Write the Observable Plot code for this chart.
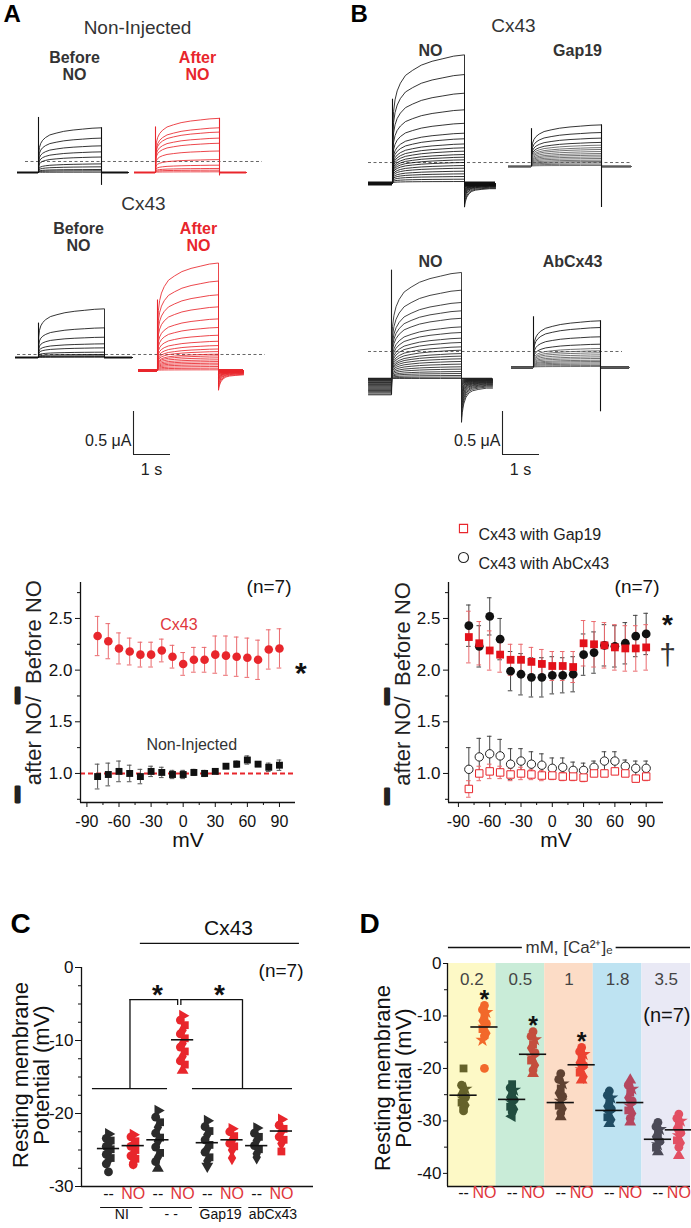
<!DOCTYPE html>
<html><head><meta charset="utf-8">
<script src="https://cdn.jsdelivr.net/npm/d3@7"></script>
<script src="https://cdn.jsdelivr.net/npm/@observablehq/plot@0.6"></script>
<style>
body{margin:0;background:#fff;}
#root{position:relative;width:691px;height:1228px;overflow:hidden;background:#fff;font-family:'Liberation Sans',Arial,sans-serif;}
#root svg{overflow:visible;}
</style></head><body><div id="root"></div>
<script>
// ======================= DATA =======================
// --- A/B: two-electrode current traces (μA, relative to each recording's holding current)
// shared activation time-course (fraction of pulse duration -> fraction of final current)
const riseP    = [0, 0.004, 0.015, 0.035, 0.065, 0.11, 0.18, 0.28, 0.40, 0.55, 0.70, 0.85, 1];
const riseFrac = [0, 0.42, 0.56, 0.65, 0.72, 0.78, 0.84, 0.88, 0.92, 0.95, 0.97, 0.99, 1];
// shared tail-current decay (s after pulse end -> fraction of tail peak)
const tailT    = [0, 0.02, 0.06, 0.12, 0.2, 0.3, 0.45, 0.68];
const tailFrac = [1, 0.78, 0.58, 0.43, 0.33, 0.28, 0.25, 0.22];

const niBeforeAmp = [0.52, 0.40, 0.31, 0.24, 0.18, 0.10, 0.066, 0.035, 0.02, 0.004];
const niBeforeSpike = [0.64, -0.15];
const niAfterAmp = [0.63, 0.52, 0.47, 0.40, 0.34, 0.25, 0.15, 0.085, 0.047, 0.027, 0.008];
const niAfterSpike = [0.53, -0.04];
const cxBeforeAmp = [0.566, 0.345, 0.236, 0.159, 0.112, 0.062, 0.035, 0.019, 0.01, 0.004];
const cxBeforeSpike = [0.40, 0];
const cxAfterAmp = [1.25, 1.04, 0.88, 0.74, 0.60, 0.50, 0.41, 0.34, 0.29, 0.25, 0.22, 0.19, 0.17, 0.147, 0.124, 0.104, 0.085, 0.066, 0.046, 0.027, 0.008];
const cxAfterTail = [-0.23, -0.2, -0.17, -0.15, -0.13, -0.11, -0.1, -0.09, -0.08, -0.07, -0.06, -0.05, -0.045, -0.04, -0.035, -0.03, -0.025, -0.02, -0.015, -0.01, -0.005];
const cxAfterSpike = [0.82, 0];
const noB1Amp = [1.496, 1.267, 1.05, 0.857, 0.70, 0.585, 0.52, 0.46, 0.415, 0.376, 0.337, 0.306, 0.275, 0.244, 0.209, 0.178, 0.143, 0.112, 0.081, 0.05, 0.023];
const noB1Tail = [-0.275, -0.24, -0.2, -0.17, -0.15, -0.13, -0.115, -0.1, -0.09, -0.08, -0.07, -0.06, -0.05, -0.045, -0.04, -0.035, -0.03, -0.025, -0.02, -0.015, -0.01];
const noB1Spike = [0.98, 0];
const gap19Amp = [0.484, 0.395, 0.33, 0.28, 0.248, 0.22, 0.198, 0.174, 0.151, 0.132, 0.112, 0.093, 0.074, 0.058, 0.043, 0.027, 0.012];
const gap19Spike = [0.44, -0.477];
const noB2Amp = [1.233, 1.027, 0.884, 0.787, 0.70, 0.60, 0.535, 0.469, 0.419, 0.368, 0.329, 0.29, 0.26, 0.229, 0.198, 0.167, 0.136, 0.109, 0.081, 0.058, 0.035, 0.016, 0];
const noB2Pre = [-0.19, -0.18, -0.165, -0.15, -0.14, -0.13, -0.12, -0.11, -0.1, -0.09, -0.08, -0.07, -0.06, -0.05, -0.045, -0.04, -0.03, -0.025, -0.02, -0.012, -0.008, -0.004, 0];
const noB2Tail = [-0.51, -0.45, -0.40, -0.36, -0.32, -0.29, -0.26, -0.23, -0.21, -0.19, -0.17, -0.15, -0.13, -0.12, -0.1, -0.09, -0.08, -0.07, -0.06, -0.05, -0.04, -0.03, -0.02];
const noB2Spike = [1.26, 0];
const abAmp = [0.543, 0.465, 0.357, 0.271, 0.221, 0.194, 0.171, 0.147, 0.124, 0.105, 0.085, 0.07, 0.054, 0.039, 0.023, 0.012];
const abSpike = [0.59, -0.515];
const dashLevels = [0.128, 0.035, 0.244, 0.314];   // reference current level (dashed) per row
const scaleBarUA = 0.5, scaleBarS = 1;

// --- middle: I(after NO)/I(before NO) vs membrane potential
const mV = [-80, -70, -60, -50, -40, -30, -20, -10, 0, 10, 20, 30, 40, 50, 60, 70, 80, 90];
const cx43Ratio = [2.33, 2.28, 2.21, 2.18, 2.15, 2.15, 2.19, 2.13, 2.06, 2.10, 2.10, 2.15, 2.14, 2.13, 2.12, 2.10, 2.20, 2.21];
const cx43Sem   = [0.19, 0.17, 0.15, 0.13, 0.12, 0.12, 0.11, 0.11, 0.11, 0.12, 0.12, 0.18, 0.19, 0.19, 0.19, 0.19, 0.19, 0.19];
const niRatio   = [0.97, 0.99, 1.02, 1.00, 0.97, 1.02, 1.01, 0.99, 0.99, 1.01, 1.00, 1.02, 1.07, 1.09, 1.13, 1.09, 1.06, 1.08];
const niSem     = [0.12, 0.11, 0.10, 0.08, 0.07, 0.05, 0.05, 0.04, 0.04, 0.03, 0.03, 0.01, 0.01, 0.03, 0.04, 0.02, 0.04, 0.05];
const noGapRatio = [2.32, 2.26, 2.19, 2.15, 2.10, 2.10, 2.08, 2.06, 2.04, 2.04, 2.03, 2.26, 2.25, 2.24, 2.22, 2.21, 2.21, 2.22];
const noGapSem   = [0.25, 0.21, 0.19, 0.17, 0.15, 0.15, 0.14, 0.14, 0.14, 0.14, 0.15, 0.22, 0.22, 0.22, 0.22, 0.22, 0.22, 0.22];
const noAbRatio  = [2.43, 2.23, 2.52, 2.30, 1.99, 1.96, 1.93, 1.93, 1.95, 1.95, 1.96, 2.15, 2.17, 2.24, 2.23, 2.26, 2.33, 2.35];
const noAbSem    = [0.20, 0.20, 0.18, 0.20, 0.19, 0.20, 0.19, 0.19, 0.18, 0.17, 0.17, 0.20, 0.20, 0.20, 0.20, 0.20, 0.20, 0.20];
const gap19Ratio = [0.85, 1.00, 1.02, 1.01, 0.99, 1.00, 0.99, 0.98, 0.98, 0.97, 0.97, 0.96, 1.00, 1.00, 1.02, 1.00, 0.95, 0.97];
const gap19Sem   = [0.08, 0.07, 0.07, 0.06, 0.06, 0.06, 0.05, 0.05, 0.04, 0.04, 0.04, 0.04, 0.03, 0.03, 0.03, 0.03, 0.03, 0.04];
const abRatio    = [1.04, 1.16, 1.19, 1.17, 1.09, 1.12, 1.09, 1.08, 1.05, 1.06, 1.03, 1.03, 1.06, 1.12, 1.12, 1.07, 1.05, 1.05];
const abSem      = [0.21, 0.18, 0.17, 0.16, 0.15, 0.12, 0.12, 0.11, 0.10, 0.09, 0.08, 0.07, 0.06, 0.09, 0.09, 0.06, 0.07, 0.07];

// --- C: resting membrane potential (mV)
const cTreat = ["--", "NO", "--", "NO", "--", "NO", "--", "NO"];
const cGroupNames = ["NI", "- -", "Gap19", "abCx43"];
const cNIctl  = [-22.8, -23.4, -23.7, -24.2, -24.5, -24.9, -25.3, -25.6, -26.1, -26.4, -26.9, -28.0];
const cNIno   = [-22.9, -23.2, -23.8, -24.3, -24.5, -25.0, -25.5, -25.8, -26.2, -26.7, -27.0];
const cCxctl  = [-19.6, -20.5, -21.2, -21.9, -22.7, -23.3, -23.8, -24.6, -25.4, -26.0, -26.6, -27.5];
const cCxno   = [-6.6, -7.2, -7.9, -8.6, -9.1, -9.7, -10.4, -10.9, -11.5, -12.2, -12.8, -13.3, -14.1];
const cGapctl = [-21.0, -21.8, -22.4, -22.9, -23.6, -24.3, -24.8, -25.3, -26.0, -26.5, -27.2];
const cGapno  = [-22.1, -22.5, -23.1, -23.7, -24.1, -24.5, -25.0, -26.1];
const cAbctl  = [-22.0, -22.7, -23.2, -23.7, -24.4, -24.9, -25.5, -26.0];
const cAbno   = [-20.8, -21.6, -22.1, -22.5, -23.2, -23.6, -24.1, -25.2];
const cMeans  = [-24.8, -24.4, -23.6, -9.9, -24.0, -23.6, -24.4, -22.4];
const cBracketLevels = [-16.6, -4.4];

// --- D: resting membrane potential vs [Ca2+]e (mM)
const caConc = ["0.2", "0.5", "1", "1.8", "3.5"];
const dCtl02 = [-20.0, -23.2, -23.9, -24.3, -24.9, -25.5, -25.8, -26.5, -27.0, -27.5, -28.1];
const dNo02  = [-8.0, -8.8, -9.3, -10.1, -10.9, -11.4, -12.1, -12.5, -13.3, -13.8, -14.6, -20.0];
const dCtl05 = [-23.0, -23.7, -24.1, -24.8, -25.5, -26.0, -26.5, -27.3, -27.8, -28.3, -29.1];
const dNo05  = [-13.0, -13.9, -14.5, -15.4, -16.1, -17.0, -17.9, -18.5, -19.4, -20.3, -21.0];
const dCtl1  = [-21.0, -22.1, -22.9, -23.8, -24.7, -25.3, -26.2, -27.1, -27.7, -28.5, -29.2];
const dNo1   = [-16.0, -16.8, -17.3, -18.1, -18.9, -19.4, -20.2, -20.8, -21.6, -22.2];
const dCtl18 = [-24.3, -25.1, -25.6, -26.4, -27.2, -27.7, -28.5, -29.3, -29.8, -30.5];
const dNo18  = [-22.2, -23.2, -23.9, -24.6, -25.6, -26.2, -27.1, -28.0, -28.6, -29.5, -30.2];
const dCtl35 = [-30.3, -31.1, -31.6, -32.5, -33.0, -33.9, -34.5, -35.1, -35.9];
const dNo35  = [-28.7, -29.5, -30.0, -30.9, -31.4, -32.3, -32.8, -33.7, -34.2, -35.0, -36.6];
const dCtlMeans = [-25.1, -25.9, -26.5, -28.0, -33.5];
const dNoMeans  = [-12.1, -17.3, -19.3, -26.5, -31.7];

// ======================= RENDER =======================
const FONT = "'Liberation Sans', Arial, Helvetica, sans-serif";
const RED = "#e8262c";
const root = document.getElementById("root");
function place(node, left, top) {
  const d = document.createElement("div");
  d.style.position = "absolute"; d.style.left = left + "px"; d.style.top = top + "px";
  d.appendChild(node); root.appendChild(d);
}

// ---------- A & B traces (one canvas, 37 px per s, 86 px per μA) ----------
const PXS = 37, PXA = 86;
const tx = px => px / PXS;
const ty = px => -px / PXA;
const traceLayout = [
  {amps: niBeforeAmp, spike: niBeforeSpike, color: "#111", x: [17, 38, 101, 128], hold: 172, baseW: 2},
  {amps: niAfterAmp, spike: niAfterSpike, color: RED, x: [134, 155, 219, 246], hold: 172, baseW: 2},
  {amps: cxBeforeAmp, spike: cxBeforeSpike, color: "#111", x: [15, 38, 104, 132], hold: 357, baseW: 2},
  {amps: cxAfterAmp, spike: cxAfterSpike, tail: cxAfterTail, color: RED, x: [138, 157, 218, 243], hold: 370, baseW: 3},
  {amps: noB1Amp, spike: noB1Spike, tail: noB1Tail, color: "#111", x: [368, 392, 464, 495], hold: 183, baseW: 4},
  {amps: gap19Amp, spike: gap19Spike, color: "#111", fade: true, x: [508, 531, 601, 631], hold: 166, baseW: 2},
  {amps: noB2Amp, spike: noB2Spike, tail: noB2Tail, pre: noB2Pre, color: "#222", x: [368, 391, 461, 492], hold: 378, baseW: 1.5},
  {amps: abAmp, spike: abSpike, color: "#111", fade: true, x: [511, 533, 600, 629], hold: 367, baseW: 2.5}
];
const dashLayout = [
  {hold: 172, x: [25, 262]}, {hold: 357, x: [17, 265]}, {hold: 183, x: [368, 632]}, {hold: 378, x: [368, 622]}
];
const traceRows = [], baseRows = [], spikeRows = [];
traceLayout.forEach((g, gi) => {
  const [tPre, t0, tEnd, tPost] = g.x.map(tx);
  const dur = tEnd - t0, h = ty(g.hold);
  g.amps.forEach((a, k) => {
    const key = gi + "-" + k;
    const color = g.fade ? (k < 4 ? "#111" : "#5a5a5a") : g.color;
    const pre = g.pre ? g.pre[k] : 0;
    const push = (t, i) => traceRows.push({key, t, i, color});
    push(tPre, h + pre);
    riseP.forEach((p, j) => push(t0 + p * dur, h + pre + (a - pre) * riseFrac[j]));
    if (g.tail) {
      tailT.forEach((s, j) => { if (tEnd + s < tPost) push(tEnd + s, h + g.tail[k] * tailFrac[j]); });
      push(tPost, h + g.tail[k] * tailFrac[tailFrac.length - 1]);
    } else {
      push(tEnd, h); push(tPost, h);
    }
  });
  baseRows.push({x1: tPre, x2: t0, y: h, w: g.baseW, color: g.color}, {x1: tEnd, x2: tPost, y: h, w: g.baseW, color: g.color});
  spikeRows.push({x: t0, y1: h + (g.pre ? d3.min(g.pre) : 0), y2: h + g.spike[0], color: g.color});
  if (g.spike[1] < 0) spikeRows.push({x: tEnd, y1: h + g.spike[1], y2: h + g.amps[0], color: g.color});
});
const dashRows = dashLayout.map((d, i) => ({x1: tx(d.x[0]), x2: tx(d.x[1]), y: ty(d.hold) + dashLevels[i]}));
const barRows = [[133, 454], [502, 454]].map(([px, py]) => ({x: tx(px), y: ty(py)}));

function lab(px, py, text, o = {}) {
  return Plot.text([text], {x: tx(px), y: ty(py), text: d => d, fontFamily: FONT, lineHeight: 1.05, ...o});
}
const boldLbl = {fontWeight: "bold", fontSize: 16};
const tracePlot = Plot.plot({
  width: 691, height: 480, margin: 0,
  x: {domain: [0, tx(691)], range: [0, 691], axis: null},
  y: {domain: [ty(480), 0], range: [480, 0], axis: null},
  color: {type: "identity"},
  style: {fontFamily: FONT, background: "transparent", overflow: "visible"},
  marks: [
    Plot.ruleY(dashRows, {x1: "x1", x2: "x2", y: "y", stroke: "#555", strokeWidth: 0.9, strokeDasharray: "3,2.5"}),
    Plot.ruleY(baseRows, {x1: "x1", x2: "x2", y: "y", stroke: "color", strokeWidth: "w"}),
    Plot.line(traceRows, {x: "t", y: "i", z: "key", stroke: "color", strokeWidth: 0.85, curve: "linear"}),
    Plot.ruleX(spikeRows, {x: "x", y1: "y1", y2: "y2", stroke: "color", strokeWidth: 1.1}),
    // scale bars
    Plot.ruleX(barRows, {x: "x", y1: "y", y2: d => d.y + scaleBarUA, stroke: "#222", strokeWidth: 1.1}),
    Plot.ruleY(barRows, {y: "y", x1: "x", x2: d => d.x + scaleBarS, stroke: "#222", strokeWidth: 1.1}),
    // labels
    lab(3, 13, "A", {fontWeight: "bold", fontSize: 24, textAnchor: "start", fill: "#000"}),
    lab(350, 13, "B", {fontWeight: "bold", fontSize: 24, textAnchor: "start", fill: "#000"}),
    lab(137, 27, "Non-Injected", {fontSize: 19, fill: "#333"}),
    lab(74, 66, "Before\nNO", {...boldLbl, fill: "#333"}),
    lab(197, 66, "After\nNO", {...boldLbl, fill: RED}),
    lab(143, 203, "Cx43", {fontSize: 19, fill: "#333"}),
    lab(78, 237, "Before\nNO", {...boldLbl, fill: "#333"}),
    lab(198, 237, "After\nNO", {...boldLbl, fill: RED}),
    lab(513, 25, "Cx43", {fontSize: 19, fill: "#333"}),
    lab(430, 50, "NO", {...boldLbl, fill: "#333"}),
    lab(577, 50, "Gap19", {...boldLbl, fill: "#333"}),
    lab(430, 261, "NO", {...boldLbl, fill: "#333"}),
    lab(572, 261, "AbCx43", {...boldLbl, fill: "#333"}),
    lab(131, 440, "0.5 μA", {fontSize: 16, textAnchor: "end", fill: "#222"}),
    lab(500, 440, "0.5 μA", {fontSize: 16, textAnchor: "end", fill: "#222"}),
    lab(151, 469, "1 s", {fontSize: 16, fill: "#222"}),
    lab(520, 469, "1 s", {fontSize: 16, fill: "#222"})
  ]
});
place(tracePlot, 0, 0);

// ---------- middle: ratio plots ----------
function errMarks(xs, m, e, color, sw, cap) {
  const rows = xs.map((x, i) => ({x, m: m[i], lo: m[i] - e[i], hi: m[i] + e[i]}));
  return [
    Plot.ruleX(rows, {x: "x", y1: "lo", y2: "hi", stroke: color, strokeWidth: sw}),
    Plot.ruleY(rows, {y: "hi", x1: d => d.x - cap, x2: d => d.x + cap, stroke: color, strokeWidth: sw}),
    Plot.ruleY(rows, {y: "lo", x1: d => d.x - cap, x2: d => d.x + cap, stroke: color, strokeWidth: sw})
  ];
}
const ptsOf = (xs, ys) => xs.map((x, i) => ({x, y: ys[i]}));
// y label layout: [dx of "I", dx of subscripts] in px; y positions along the axis (in ratio units)
function ratioFrame(xDom, yDom, lx, ly) {
  const sub = {x: xDom[0], rotate: -90, textAnchor: "middle", lineAnchor: "bottom", dx: lx[1], fontSize: 22, fontFamily: FONT, fill: "#222"};
  const big = {x: xDom[0], textAnchor: "middle", lineAnchor: "middle", dx: lx[0], fontSize: 22, fontWeight: "bold", fontFamily: FONT, fill: "#222", stroke: "#222", strokeWidth: 2.8};
  return [
    Plot.ruleX([xDom[0]], {stroke: "#111", strokeWidth: 1.3}),
    Plot.ruleY([yDom[0]], {stroke: "#111", strokeWidth: 1.3}),
    Plot.axisY({ticks: [1, 1.5, 2, 2.5], tickSize: 5, tickPadding: 3, tickFormat: d => d.toFixed(1), fontSize: 17, label: null, fontFamily: FONT}),
    Plot.axisY({ticks: [0.75, 1.25, 1.75, 2.25, 2.75], tickSize: 3, tickFormat: () => "", label: null}),
    Plot.axisX({ticks: [-90, -60, -30, 0, 30, 60, 90], tickSize: 5, tickPadding: 8, tickFormat: d => String(d), fontSize: 16, label: null, fontFamily: FONT}),
    Plot.axisX({ticks: [-75, -45, -15, 15, 45, 75], tickSize: 3, tickFormat: () => "", label: null}),
    Plot.text(["mV"], {frameAnchor: "bottom", textAnchor: "middle", dy: 44, fontSize: 21, fontFamily: FONT, fill: "#111"}),
    Plot.text(["(n=7)"], {frameAnchor: "top-right", textAnchor: "end", lineAnchor: "top", dx: -4, dy: -3, fontSize: 19, fontFamily: FONT, fill: "#111"}),
    // y label: upright bar-like "I" glyphs followed by rotated subscripts
    Plot.text(["after NO/"], {...sub, y: ly[2]}),
    Plot.text(["Before NO"], {...sub, y: ly[3]}),
    Plot.text(["I"], {...big, y: ly[0]}),
    Plot.text(["I"], {...big, y: ly[1]})
  ];
}
const yDomR = [0.719, 2.848];
const xDomL = [-96, 105];
const leftRatio = Plot.plot({
  width: 345, height: 300, marginLeft: 80, marginRight: 50, marginTop: 22, marginBottom: 58,
  x: {domain: xDomL, axis: null}, y: {domain: yDomR, axis: null},
  style: {fontFamily: FONT, color: "#111", overflow: "visible", background: "transparent"},
  marks: [
    Plot.ruleY([1], {stroke: RED, strokeWidth: 2, strokeDasharray: "5,3"}),
    ...errMarks(mV, cx43Ratio, cx43Sem, "#ea6a6e", 1, 2.2),
    ...errMarks(mV, niRatio, niSem, "#555", 1, 2.2),
    Plot.dot(ptsOf(mV, cx43Ratio), {x: "x", y: "y", r: 4.3, fill: RED, stroke: "none"}),
    Plot.dot(ptsOf(mV, niRatio), {x: "x", y: "y", r: 3.9, symbol: "square", fill: "#111", stroke: "none"}),
    Plot.text(["Cx43"], {x: -4, y: 2.44, fontSize: 16, fill: "#e0373c", fontFamily: FONT}),
    Plot.text(["Non-Injected"], {x: 8, y: 1.28, fontSize: 16, fill: "#333", fontFamily: FONT}),
    Plot.text(["*"], {x: 110, y: 1.97, fontSize: 30, fontWeight: "bold", fill: "#111", fontFamily: FONT}),
    ...ratioFrame(xDomL, yDomR, [-63, -40], [0.796, 1.754, 1.318, 2.369])
  ]
});
place(leftRatio, 0, 560);

const xDomR = [-99.5, 106.6];
const rightRatio = Plot.plot({
  width: 346, height: 340, marginLeft: 103, marginRight: 28, marginTop: 62, marginBottom: 58,
  x: {domain: xDomR, axis: null}, y: {domain: yDomR, axis: null},
  style: {fontFamily: FONT, color: "#111", overflow: "visible", background: "transparent"},
  marks: [
    ...errMarks(mV, noAbRatio, noAbSem, "#444", 1, 2.2),
    ...errMarks(mV, noGapRatio, noGapSem, "#ea6a6e", 1, 2.2),
    ...errMarks(mV, abRatio, abSem, "#444", 1, 2.2),
    ...errMarks(mV, gap19Ratio, gap19Sem, "#ea6a6e", 1, 2.2),
    Plot.dot(ptsOf(mV, noAbRatio), {x: "x", y: "y", r: 4.4, fill: "#111", stroke: "none"}),
    Plot.dot(ptsOf(mV, noGapRatio), {x: "x", y: "y", r: 4.4, symbol: "square", fill: "#e3111a", stroke: "none"}),
    Plot.dot(ptsOf(mV, abRatio), {x: "x", y: "y", r: 4.2, fill: "white", stroke: "#222", strokeWidth: 1}),
    Plot.dot(ptsOf(mV, gap19Ratio), {x: "x", y: "y", r: 4.2, symbol: "square", fill: "white", stroke: RED, strokeWidth: 1}),
    // legend
    Plot.dot([0], {frameAnchor: "top-left", dx: 15, dy: -54, r: 4.6, symbol: "square", fill: "white", stroke: RED, strokeWidth: 1.1}),
    Plot.dot([0], {frameAnchor: "top-left", dx: 15, dy: -25, r: 5, fill: "white", stroke: "#222", strokeWidth: 1.1}),
    Plot.text(["Cx43 with Gap19"], {frameAnchor: "top-left", textAnchor: "start", dx: 30, dy: -54, fontSize: 16, fontFamily: FONT, fill: "#222"}),
    Plot.text(["Cx43 with AbCx43"], {frameAnchor: "top-left", textAnchor: "start", dx: 30, dy: -25, fontSize: 16, fontFamily: FONT, fill: "#222"}),
    Plot.text(["*"], {x: xDomR[1], y: 2.44, textAnchor: "middle", dx: 4, fontSize: 28, fontWeight: "bold", fill: "#111", fontFamily: FONT}),
    Plot.text(["†"], {x: xDomR[1], y: 2.14, textAnchor: "middle", dx: 4, fontSize: 30, fill: "#333", fontFamily: FONT}),
    ...ratioFrame(xDomR, yDomR, [-61.5, -39], [0.776, 1.744, 1.314, 2.349])
  ]
});
place(rightRatio, 345, 520);

// ---------- C ----------
const cCols = [cNIctl, cNIno, cCxctl, cCxno, cGapctl, cGapno, cAbctl, cAbno];
const cRows = cCols.flatMap((vals, col) => vals.map((v, k) => ({col, v, k, n: vals.length, treat: cTreat[col]})));
const cBottomSym = ["circle", "circle", "triangle", "triangle", "triangle", "diamond", "diamond", "square"];
const cBottomRot = [0, 0, 0, 0, 180, 0, 0, 0];
const cSym = d => d.k === d.n - 1 ? cBottomSym[d.col] : (d.k === 0 ? "triangle" : ["diamond", "circle", "square"][d.k % 3]);
const cRot = d => d.k === d.n - 1 ? cBottomRot[d.col] : (d.k === 0 ? 90 : 0);
const cColor = d => d.treat === "NO" ? "#e8262c" : "#2b2b2b";
const spread = [0, -0.09, 0.09];   // small horizontal scatter of stacked symbols (style)
const cXDom = [-1.093, 8.30];
const cPairs = [0, 2, 4, 6].map((c, i) => ({a: c, b: c + 1, name: cGroupNames[i]}));
const cBr = {left: [0 - 0.65, 2 + 0.39], right: [4 - 0.6, 7 + 0.45], target: 3};
const lMid = (cBr.left[0] + cBr.left[1]) / 2, rMid = (cBr.right[0] + cBr.right[1]) / 2;
const [bLow, bTop] = cBracketLevels;
const cPlot = Plot.plot({
  width: 345, height: 328, marginLeft: 81, marginRight: 32, marginTop: 67, marginBottom: 42,
  x: {domain: cXDom, axis: null}, y: {domain: [-30, 0], axis: null},
  color: {type: "identity"},
  style: {fontFamily: FONT, color: "#111", overflow: "visible", background: "transparent"},
  marks: [
    Plot.ruleX([cXDom[0]], {stroke: "#111", strokeWidth: 1.3}),
    Plot.ruleY([-30], {stroke: "#111", strokeWidth: 1.3}),
    Plot.axisY({ticks: [0, -10, -20, -30], tickSize: 6, tickPadding: 2, tickFormat: d => String(d), fontSize: 17, label: null, fontFamily: FONT}),
    Plot.axisY({ticks: [-2.5, -5, -7.5, -12.5, -15, -17.5, -22.5, -25, -27.5], tickSize: 3, tickFormat: () => "", label: null}),
    // significance bracket
    Plot.ruleY([bLow, bLow], {x1: (d, i) => i ? cBr.right[0] : cBr.left[0], x2: (d, i) => i ? cBr.right[1] : cBr.left[1], stroke: "#111", strokeWidth: 1.3}),
    Plot.ruleX([lMid, rMid], {y1: bLow, y2: bTop, stroke: "#111", strokeWidth: 1.3}),
    Plot.ruleY([bTop, bTop], {x1: (d, i) => i ? cBr.target - 0.07 : lMid, x2: (d, i) => i ? rMid : cBr.target - 0.2, stroke: "#111", strokeWidth: 1.3}),
    Plot.ruleX([cBr.target - 0.2, cBr.target - 0.07], {y1: bTop, y2: bTop - 0.8, stroke: "#111", strokeWidth: 1.3}),
    Plot.text(["*", "*"], {x: (d, i) => i ? 4.49 : 1.98, y: bTop + 0.6, fontSize: 28, fontWeight: "bold", fill: "#111", fontFamily: FONT}),
    // header
    Plot.ruleY([3.3], {x1: 1.29, x2: 7.73, stroke: "#111", strokeWidth: 1.3}),
    Plot.text(["Cx43"], {x: 4.86, y: 5.4, fontSize: 21, fill: "#111", fontFamily: FONT}),
    Plot.text(["C"], {frameAnchor: "top-left", textAnchor: "start", dx: -71, dy: -54, fontSize: 28, fontWeight: "bold", fill: "#000", fontFamily: FONT}),
    // points
    Plot.dot(cRows, {x: d => d.col + (d.k === 0 || d.k === d.n - 1 ? 0 : spread[d.k % 3]), y: "v", r: 4.4, symbol: cSym, rotate: cRot, fill: cColor, stroke: "none"}),
    Plot.ruleY(cMeans, {y: d => d, x1: (d, i) => i - 0.45, x2: (d, i) => i + 0.45, stroke: "#111", strokeWidth: 1.6}),
    Plot.text(["(n=7)"], {frameAnchor: "top-right", textAnchor: "end", lineAnchor: "top", dx: -10, dy: -4, fontSize: 19, fontFamily: FONT, fill: "#111"}),
    // x labels
    Plot.text(cTreat, {x: (d, i) => i, frameAnchor: "bottom", textAnchor: "middle", dy: 12, fontSize: 16, fill: d => d === "NO" ? "#e0373c" : "#111", fontFamily: FONT}),
    Plot.ruleY(cPairs, {y: -30, x1: d => d.a - 0.32, x2: d => d.b + 0.4, dy: 21, stroke: "#111", strokeWidth: 1}),
    Plot.text(cPairs, {x: d => (d.a + d.b) / 2 + 0.04 + (d.a === 6 ? 0.12 : 0), frameAnchor: "bottom", textAnchor: "middle", dy: 32, text: "name", fontSize: 14, fill: "#111", fontFamily: FONT}),
    Plot.text(["Resting membrane\nPotential (mV)"], {frameAnchor: "left", textAnchor: "middle", rotate: -90, dx: -50, dy: -2, fontSize: 22, lineHeight: 0.95, fill: "#111", fontFamily: FONT})
  ]
});
place(cPlot, 0, 900);

// ---------- D ----------
const dCtlCols = [dCtl02, dCtl05, dCtl1, dCtl18, dCtl35];
const dNoCols = [dNo02, dNo05, dNo1, dNo18, dNo35];
const ctlColors = ["#65622b", "#224e40", "#5f4232", "#204d64", "#4b4a57"];
const noColors = ["#f2692b", "#c44e3e", "#ec4331", "#b5475f", "#e24f63"];
const bandColors = ["#fdf9c6", "#c9ecd8", "#fcdcc6", "#bee3f2", "#e9e9f5"];
const posOf = {"--": 0.33, "NO": 0.76};
const dRows = [];
caConc.forEach((c, b) => {
  dCtlCols[b].forEach((v, k, a) => dRows.push({b, treat: "--", v, k, n: a.length}));
  dNoCols[b].forEach((v, k, a) => dRows.push({b, treat: "NO", v, k, n: a.length}));
});
const dSym = d => d.k === 0 ? (d.b === 3 && d.treat === "NO" ? "triangle" : (d.treat === "--" && d.b < 2 ? "square" : "circle"))
  : d.k === d.n - 1 ? (d.b === 0 ? "circle" : "triangle") : ["diamond", "circle", "star", "square"][d.k % 4];
const dRot = d => d.k === d.n - 1 && d.b === 1 && d.treat === "--" ? -90 : 0;
const dMeanRows = caConc.flatMap((c, b) => [{b, treat: "--", m: dCtlMeans[b]}, {b, treat: "NO", m: dNoMeans[b]}]);
const sigBands = [0, 1, 2];
const dPlot = Plot.plot({
  width: 346, height: 328, marginLeft: 102, marginRight: 1, marginTop: 63, marginBottom: 42,
  x: {domain: [0, 5], axis: null}, y: {domain: [-42.5, 0], axis: null},
  color: {type: "identity"},
  style: {fontFamily: FONT, color: "#111", overflow: "visible", background: "transparent"},
  marks: [
    Plot.rect(caConc, {x1: (d, i) => i, x2: (d, i) => i + 1, fill: (d, i) => bandColors[i]}),
    Plot.text(caConc, {x: (d, i) => i + 0.5, frameAnchor: "top", textAnchor: "middle", dy: 9, fontSize: 17, fill: "#444", fontFamily: FONT}),
    Plot.ruleX([0], {stroke: "#111", strokeWidth: 1.3}),
    Plot.ruleY([-42.5], {stroke: "#111", strokeWidth: 1.3}),
    Plot.axisY({ticks: [0, -10, -20, -30, -40], tickSize: 4, tickPadding: 2, tickFormat: d => String(d), fontSize: 17, label: null, fontFamily: FONT}),
    Plot.axisY({ticks: [-5, -15, -25, -35], tickSize: 3, tickFormat: () => "", label: null}),
    Plot.dot(dRows, {x: d => d.b + posOf[d.treat] + (d.k === 0 || d.k === d.n - 1 ? 0 : spread[d.k % 3] * 0.45), y: "v", r: 4.4, symbol: dSym, rotate: dRot,
      fill: d => d.treat === "NO" ? noColors[d.b] : ctlColors[d.b], stroke: "none"}),
    Plot.ruleY(dMeanRows, {y: "m", x1: d => d.b + posOf[d.treat] - 0.28, x2: d => d.b + posOf[d.treat] + 0.28, stroke: "#111", strokeWidth: 1.6}),
    Plot.text(sigBands, {x: b => b + posOf.NO, y: b => d3.max(dNoCols[b]) - 0.4, lineAnchor: "bottom", text: () => "*", fontSize: 25, fontWeight: "bold", fill: "#111", fontFamily: FONT}),
    Plot.text(["(n=7)"], {frameAnchor: "top-right", textAnchor: "end", dx: 0, dy: 44, fontSize: 20, fontFamily: FONT, fill: "#111"}),
    // header
    Plot.ruleY([3.05, 3.05], {x1: (d, i) => i ? 3.47 : 0.02, x2: (d, i) => i ? 5.0 : 1.54, stroke: "#111", strokeWidth: 1.3}),
    Plot.text(["mM, [Ca²⁺]ₑ"], {x: 2.5, y: 3.05, fontSize: 17, fill: "#333", fontFamily: FONT}),
    Plot.text(["D"], {frameAnchor: "top-left", textAnchor: "start", dx: -88, dy: -50, fontSize: 28, fontWeight: "bold", fill: "#000", fontFamily: FONT}),
    // x labels
    Plot.text(dMeanRows, {x: d => d.b + posOf[d.treat], frameAnchor: "bottom", textAnchor: "middle", dy: 11, text: "treat", fontSize: 16,
      fill: d => d.treat === "NO" ? "#e0373c" : "#111", fontFamily: FONT}),
    Plot.text(["Resting membrane\nPotential (mV)"], {frameAnchor: "left", textAnchor: "middle", rotate: -90, dx: -54, dy: 3, fontSize: 22, lineHeight: 0.95, fill: "#111", fontFamily: FONT})
  ]
});
place(dPlot, 345, 900);
</script></body></html>
